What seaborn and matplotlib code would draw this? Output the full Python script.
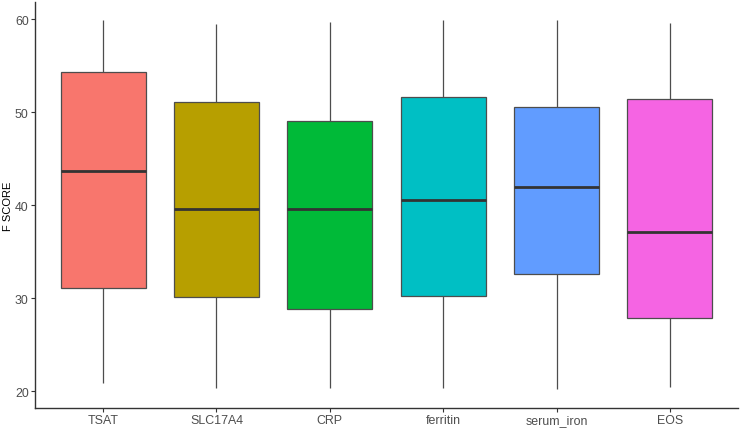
import numpy as np
import pandas as pd
import matplotlib
matplotlib.use("Agg")
import matplotlib.pyplot as plt
import seaborn as sns

categories = ["TSAT", "SLC17A4", "CRP", "ferritin", "serum_iron", "EOS"]
whisker_low = [20.9, 20.4, 20.3, 20.3, 20.2, 20.5]
q1 = [31.1, 30.1, 28.9, 30.2, 32.6, 27.9]
median = [43.7, 39.6, 39.6, 40.6, 42.0, 37.1]
q3 = [54.3, 51.1, 49.1, 51.7, 50.6, 51.4]
whisker_high = [59.9, 59.5, 59.7, 59.9, 59.9, 59.6]
colors = ["#F8766D", "#B79F00", "#00BA38", "#00BFC4", "#619CFF", "#F564E3"]

rows = []
for i, c in enumerate(categories):
    for v in (whisker_low[i], q1[i], median[i], q3[i], whisker_high[i]):
        rows.append((c, v))
df = pd.DataFrame(rows, columns=["marker", "score"])

sns.set_theme(style="white")
plt.rcParams["font.family"] = ["Liberation Sans", "DejaVu Sans"]

fig = plt.figure(figsize=(7.43, 4.31), dpi=100)
ax = fig.add_axes([35 / 743, 22 / 431, (738 - 35) / 743, (409 - 2.7) / 431])

sns.boxplot(data=df, x="marker", y="score", hue="marker", order=categories,
            hue_order=categories, palette=colors, width=0.75, linecolor="#333333",
            linewidth=0.9, showcaps=False, legend=False, saturation=1, whis=10,
            medianprops=dict(linewidth=2.0, color="#333333"),
            whiskerprops=dict(color="#4D4D4D"),
            boxprops=dict(edgecolor="#4D4D4D"), ax=ax)

ax.set_xlim(-0.6, 5.6)
ax.set_ylim(18.2, 61.9)
ax.set_yticks([20, 30, 40, 50, 60])
ax.set_xlabel("")
ax.set_ylabel("F SCORE", fontsize=8, color="black")
ax.yaxis.set_label_coords(-22 / 703, 0.5)
ax.tick_params(axis="both", bottom=True, left=True, length=3, width=0.8,
               color="#333333", labelsize=8.9, labelcolor="#4D4D4D", pad=1.5,
               direction="out")
for side in ("top", "right"):
    ax.spines[side].set_visible(False)
for side in ("left", "bottom"):
    ax.spines[side].set_color("#333333")
    ax.spines[side].set_linewidth(1.0)
ax.grid(False)

fig.savefig("out.png", dpi=100)
